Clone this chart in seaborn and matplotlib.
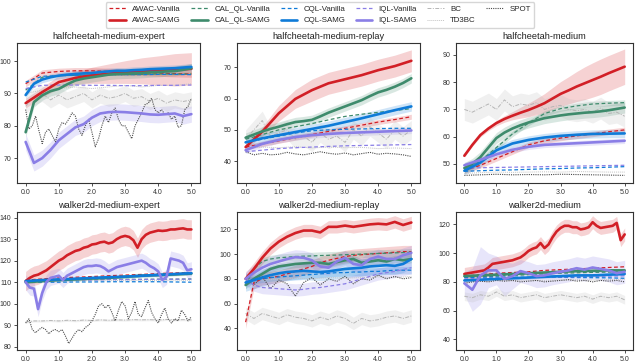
import numpy as np
import pandas as pd
import matplotlib
matplotlib.use("Agg")
import matplotlib.pyplot as plt
import seaborn as sns

# ---------------- data ----------------
SERIES = ["AWAC-Vanilla", "AWAC-SAMG", "CAL_QL-Vanilla", "CAL_QL-SAMG",
          "CQL-Vanilla", "CQL-SAMG", "IQL-Vanilla", "IQL-SAMG",
          "BC", "TD3BC", "SPOT"]
TITLES = ["halfcheetah-medium-expert", "halfcheetah-medium-replay", "halfcheetah-medium",
          "walker2d-medium-expert", "walker2d-medium-replay", "walker2d-medium"]
X_TICKS = [0, 1, 2, 3, 4, 5]
X_TICK_LABELS = ["0.0", "1.0", "2.0", "3.0", "4.0", "5.0"]
Y_TICKS = [[70, 80, 90, 100], [40, 50, 60, 70], [50, 60, 70, 80, 90],
           [80, 90, 100, 110, 120, 130, 140], [40, 60, 80, 100, 120], [40, 60, 80, 100, 120]]

# halfcheetah-medium-expert
hcme_awac_v = [93, 96.3, 96.8, 97, 97, 96.8, 96.5, 96.5, 96.3, 96.1, 96]
hcme_awac_s = [87, 90.4, 93.5, 94.8, 95.6, 96.1, 96.6, 97, 97.1, 97.3, 97.6]
hcme_cal_v = [91, 95, 95.5, 95.6, 95.7, 95.8, 95.8, 95.9, 96, 96, 96]
hcme_cal_s = [78, 87.3, 89.4, 90.7, 91.4, 92.8, 94, 94.6, 95, 95.4, 95.8, 96, 96.1, 96.2, 96.3, 96.5, 96.6, 96.8, 96.9, 97.3, 97.8]
hcme_cql_v = [93.5, 95.3, 95.5, 95.6, 95.7, 95.8, 95.8, 95.8, 95.9, 95.9, 95.8]
hcme_cql_s = [89.5, 93, 94.3, 95, 95.5, 95.8, 96, 96.2, 96.3, 96.6, 96.8, 97, 97, 97.2, 97.3, 97.5, 97.6, 97.7, 97.8, 98, 98.2]
hcme_iql_v = [91.5, 92.5, 92.6, 92.6, 92.5, 92.5, 92.4, 92.4, 92.5, 92.5, 92.6]
hcme_iql_s = [75, 68.5, 70, 72.5, 75.5, 77.5, 79.5, 80.5, 82.5, 83.8, 84.2, 84.3, 84.2, 84, 83.8, 83.5, 83.4, 83.6, 83.8, 83, 83.6]
hcme_bc = [86, 89, 90, 88, 89.5, 88, 89, 90, 88, 89.5, 88.5, 89, 90, 88.5, 89, 87.5, 88.5, 87, 88, 87.5, 88]
hcme_td3bc = [90, 91, 91.5, 92, 91.5, 92, 92.5, 92, 92.5, 92.5, 93]
hcme_spot = [85, 79, 80, 83, 78.5, 74.5, 78, 79, 77, 75, 79, 81, 80.5, 82, 84, 83, 79, 77, 80, 82,
             78, 73.5, 76, 80, 83, 81, 84, 85.5, 82, 80, 80, 78, 76, 80, 82, 84, 86.5, 87, 88.5, 85,
             84, 85, 83.5, 84, 82, 83, 79.5, 80, 85, 86, 88.5]

# halfcheetah-medium-replay
hcmr_awac_v = [44.5, 45.5, 46.5, 47.5, 48.5, 49.5, 50.5, 51.5, 52.5, 53.3, 54.2]
hcmr_awac_s = [44.5, 49.4, 55.3, 59.9, 62.7, 64.9, 66.2, 67.5, 69.1, 70.4, 72.1]
hcmr_cal_v = [47, 48.5, 50, 51, 52, 53.2, 54.3, 55, 55.6, 56.2, 56.8]
hcmr_cal_s = [47.5, 48.5, 49.5, 50.3, 51, 51.8, 52.5, 52.8, 53.2, 54.3, 55.5, 56.5, 57.5, 58.5, 59.5, 60.8, 62, 62.8, 63.8, 65, 66.5]
hcmr_cql_v = [46, 47, 48, 49, 49.7, 50, 50.2, 50.3, 50.4, 50.5, 50.5]
hcmr_cql_s = [46, 47.3, 48.3, 49.3, 50.3, 51.3, 52.5, 53.7, 55, 56.3, 57.5]
hcmr_iql_v = [43, 43.5, 44, 44.3, 44.5, 44.7, 44.9, 45, 45.1, 45.2, 45.3]
hcmr_iql_s = [43.5, 45.5, 46.8, 47.7, 48.3, 48.7, 49, 49.2, 49.4, 49.6, 49.8]
hcmr_bc = [47, 50, 53, 48, 49, 50, 47, 48, 46, 49, 47, 48, 46, 50, 48, 51, 49, 47, 50, 48, 50]
hcmr_td3bc = [44, 44.5, 44.3, 44.6, 44.2, 44.5, 44.3, 44.4, 44, 44.2, 44]
hcmr_spot = [43, 42, 42.5, 42, 42.2, 42.8, 42.3, 42, 42.5, 43, 42.5, 42.2, 42.6, 42, 42.4, 42.8, 42.2, 42.5, 42.3, 42, 41.5]

# halfcheetah-medium
hcm_awac_v = [47.5, 49.5, 52, 54.5, 57, 58.5, 59.5, 60.3, 61, 61.8, 62.5]
hcm_awac_s = [53, 57, 60.6, 63, 65, 66.5, 67.7, 68.8, 69.8, 71, 72.3, 74, 75.7, 77, 78.4, 79.6, 80.8, 82, 83.3, 84.5, 85.7]
hcm_cal_v = [48, 51, 56, 61, 65, 68.5, 70.3, 71.3, 72, 72.3, 72.5]
hcm_cal_s = [48.5, 50, 52.5, 56, 59.5, 61.5, 63, 64.2, 65.2, 66, 66.8, 67.3, 67.8, 68.2, 68.5, 68.8, 69, 69.3, 69.7, 70.2, 70.7]
hcm_cql_v = [47.3, 47.5, 47.7, 47.8, 48, 48.2, 48.3, 48.5, 48.6, 48.8, 49]
hcm_cql_s = [47.5, 50.5, 55, 57.5, 58.8, 59.7, 60.3, 60.7, 61, 61.1, 61.2]
hcm_iql_v = [48.5, 48.6, 48.7, 48.8, 48.9, 49, 49.1, 49.2, 49.3, 49.4, 49.5]
hcm_iql_s = [49.5, 51.5, 53.5, 55.2, 56.3, 57, 57.3, 57.6, 57.9, 58.2, 58.5]
hcm_bc = [70, 69, 70.5, 72, 70, 73.5, 71, 72, 71.5, 72.5, 70, 71, 71.5, 70, 69.5, 70, 69, 70.5, 68.5, 69, 67.5]
hcm_td3bc = [46.5, 46.8, 47, 46.9, 47, 47.1, 47, 47.2, 47.1, 47, 47]
hcm_spot = [45.8, 46, 46.2, 46, 46.1, 46, 46.2, 46.1, 46, 45.9, 45.8]

# walker2d-medium-expert
wme_awac_v = [111, 111.5, 112, 112.3, 112.6, 113, 113.3, 113.6, 114, 114.3, 114.5]
wme_awac_s = [110.5, 112, 113, 113.5, 114.5, 115.5, 117, 118.5, 120, 121, 122.5, 123.5, 124.5, 125, 126, 126.5,
              127.5, 127.8, 128.5, 128.8, 128, 128.5, 130, 131, 131.5, 131, 129.5, 126, 130, 132, 133, 133.5,
              134, 133.8, 134, 134.5, 134.5, 134.8, 135, 134.5, 134.5]
wme_cal_v = [110.5, 111, 111, 111.2, 111.2, 111.3, 111.3, 111.3, 111.4, 111.4, 111.5]
wme_cal_s = [110, 110.5, 111, 111.3, 111.7, 112, 112.5, 113, 113.3, 113.6, 114]
wme_cql_v = [109.8, 110, 110, 110.1, 110.1, 110.2, 110.2, 110.2, 110.2, 110.1, 110]
wme_cql_s = [110.5, 111, 111.3, 111.6, 112, 112.3, 112.6, 113, 113.4, 113.8, 114.2]
wme_iql_v = [110, 110.5, 110.8, 111, 111, 111.2, 111.2, 111.3, 111.3, 111.4, 111.4]
wme_iql_s = [110, 107.5, 107, 97.5, 105, 110, 112, 112.5, 113, 111, 113, 114, 115, 116, 117, 117.5, 117.5,
             117.8, 117.5, 116.5, 115, 116, 117, 117.5, 118, 118.5, 119, 119.5, 120, 119, 117.5, 116.5,
             115, 111, 112.5, 121, 120.5, 120, 119, 115.5, 116]
wme_bc = [91.5, 92, 92, 92.2, 92, 92.3, 92.1, 92.4, 92.2, 92.5, 92.3, 92.5, 92.4, 92.6, 92.5, 92.6, 92.4, 92.7, 92.5, 92.6, 92.5]
wme_td3bc = [110.3, 110.5, 110.6, 110.6, 110.7, 110.7, 110.8, 110.8, 110.8, 110.9, 110.9]
wme_spot = [91, 93, 88, 86.5, 88, 89, 88, 86, 87.5, 88, 87, 88, 85, 81.5, 84, 86.5, 88, 87, 89, 90,
            92, 95, 99, 100, 98, 99.5, 96, 92, 97, 101, 99, 93, 96, 101, 95, 94, 98, 101.5, 96, 93,
            91, 95, 98, 93, 91, 93, 92, 97, 95, 92, 94]

# walker2d-medium-replay
wmr_awac_v = [45, 77, 80, 81, 82, 84, 86, 88, 90, 93, 95, 96.5, 98, 99, 99.5, 100, 100.5, 101, 101.5, 102, 102]
wmr_awac_s = [80, 88, 97, 104.5, 110, 114, 117, 119, 119, 117.5, 122, 122, 123, 122, 123, 124, 124.5, 124, 126, 123.5, 125.5]
wmr_cal_v = [75, 88, 94, 96, 97, 97.5, 98, 98.3, 98.5, 98.8, 99, 99.2, 99.5, 99.7, 100, 100.2, 100.5, 100.7, 101, 101.2, 101.5]
wmr_cal_s = [75, 80, 84, 88, 90, 91, 92, 92.5, 93, 93, 92, 93.5, 95, 96, 93, 94, 95, 94, 96, 95, 96]
wmr_cql_v = [78, 79, 80, 81, 81.5, 82, 82.5, 83, 83.5, 84, 84.5, 85, 85, 85.5, 85.5, 86, 86, 86.5, 87, 87, 87]
wmr_cql_s = [77, 79, 81, 83, 84.5, 85.5, 86, 86.5, 86, 85.5, 86, 87, 88, 88.5, 89, 90, 90.5, 91, 90.5, 92, 96]
wmr_iql_v = [80, 75, 73, 72.5, 72, 71.5, 71, 71.5, 72.5, 73, 74, 75, 76, 78, 80, 82, 84, 85, 86, 87.5, 89]
wmr_iql_s = [80, 85, 89, 92, 94, 96, 97.5, 97, 95, 90, 89, 94, 97, 92, 91, 96, 98, 96, 96, 99, 101]
wmr_bc = [52, 48, 52, 50, 48, 51, 49, 48, 46, 49, 47, 50, 48, 44, 48, 46, 47, 49, 50, 48, 50]
wmr_td3bc = [79, 80, 79.5, 80.5, 80, 81, 80.5, 81, 81.5, 81, 82]
wmr_spot = [80, 75, 82, 72, 79, 76, 66, 77, 81, 75, 80, 78, 82, 76, 80, 79, 83, 80, 82, 80, 81]

# walker2d-medium
wm_awac_v = [84, 85, 86, 86.5, 87, 88, 88.5, 89, 89.5, 90, 90.5]
wm_awac_s = [85.5, 86, 86.5, 87, 87.5, 88, 90, 92.5, 93, 93.5, 94, 94.5, 95, 96, 97, 99, 101.5, 103, 104, 107,
             103.5, 106, 111, 115, 117.5, 119, 119, 118, 118, 116.5, 117, 118, 121.5, 119, 117.5, 118,
             118.5, 119, 121, 109, 113]
wm_cal_v = [83, 83.5, 84, 84.5, 85, 85.5, 86, 86.3, 86.6, 86.8, 87]
wm_cal_s = [84, 84.5, 85, 85.5, 86, 86.5, 87, 87.5, 87.7, 88, 88]
wm_cql_v = [83, 83.2, 83.3, 83.3, 83.2, 83.2, 83.1, 83, 82.9, 82.8, 82.5]
wm_cql_s = [81, 81.5, 82, 82.5, 83, 83.5, 84, 84.5, 84.5, 85, 85.5]
wm_iql_v = [82, 82.3, 82.6, 82.8, 83, 83.2, 83.4, 83.6, 83.8, 84, 84.2]
wm_iql_s = [79, 74.5, 84.5, 88, 88, 82, 84, 87.5, 86, 84, 84.5, 86, 87, 88, 89.5, 88.5, 90, 89, 88, 86, 87]
wm_bc = [70, 69, 71, 70, 73, 70, 71, 69, 70, 71, 69, 70, 71, 70, 69, 70, 68, 70, 69, 70, 67.5]
wm_td3bc = [80, 80.5, 81, 80.8, 81.2, 81, 81.3, 81.5, 81.2, 81.6, 81.8]
wm_spot = [79, 80, 80.5, 80, 81, 80.5, 81, 80, 80.5, 81, 80, 80.5, 81, 81.5, 80.5, 81, 80, 81, 80.5, 81, 80]

# shaded spread (half-width) per series
hcme_spread = {"AWAC-Vanilla": 1, "AWAC-SAMG": [1.5, 1.5, 2, 2, 2.5, 3, 3.5, 4, 4.5, 5, 5], "CAL_QL-SAMG": 1.5,
               "CQL-SAMG": 1, "IQL-SAMG": 2.5, "BC": 2.5}
hcmr_spread = {"AWAC-SAMG": [0.5, 1.5, 2.5, 3, 3.5, 3.5, 3.5, 3.5, 3.5, 3.5, 3.5], "CAL_QL-SAMG": 1.5,
               "CQL-SAMG": 1.5, "IQL-SAMG": 1, "BC": 3, "AWAC-Vanilla": 0.8}
hcm_spread = {"AWAC-SAMG": [0.5, 0.5, 0.7, 0.8, 1, 1.2, 1.5, 2, 2.5, 3, 3.5, 4, 4.5, 5, 5.5, 6, 6.3, 6.5, 6.5, 6.5, 6.5],
              "AWAC-Vanilla": 1, "CAL_QL-SAMG": 2, "CAL_QL-Vanilla": 1, "CQL-SAMG": 1.5, "IQL-SAMG": 1, "BC": 4}
wme_spread = {"AWAC-SAMG": 4.5, "IQL-SAMG": 3.5, "CQL-SAMG": 0.7, "CAL_QL-SAMG": 0.7, "BC": 0.5}
wmr_spread = {"AWAC-SAMG": 5, "AWAC-Vanilla": 5, "CQL-SAMG": 7, "IQL-SAMG": 6, "IQL-Vanilla": 5,
              "CAL_QL-SAMG": 3, "CAL_QL-Vanilla": 3, "CQL-Vanilla": 3, "BC": 5}
wm_spread = {"AWAC-SAMG": 4.5, "IQL-SAMG": [8, 15, 20, 12, 10, 12, 9, 8, 8, 8, 8, 8, 8, 8, 8, 8, 8, 8, 8, 8, 8],
             "BC": 3, "CAL_QL-SAMG": 1, "CQL-SAMG": 1}

PANELS = [
    dict(zip(SERIES, [hcme_awac_v, hcme_awac_s, hcme_cal_v, hcme_cal_s, hcme_cql_v, hcme_cql_s,
                      hcme_iql_v, hcme_iql_s, hcme_bc, hcme_td3bc, hcme_spot])),
    dict(zip(SERIES, [hcmr_awac_v, hcmr_awac_s, hcmr_cal_v, hcmr_cal_s, hcmr_cql_v, hcmr_cql_s,
                      hcmr_iql_v, hcmr_iql_s, hcmr_bc, hcmr_td3bc, hcmr_spot])),
    dict(zip(SERIES, [hcm_awac_v, hcm_awac_s, hcm_cal_v, hcm_cal_s, hcm_cql_v, hcm_cql_s,
                      hcm_iql_v, hcm_iql_s, hcm_bc, hcm_td3bc, hcm_spot])),
    dict(zip(SERIES, [wme_awac_v, wme_awac_s, wme_cal_v, wme_cal_s, wme_cql_v, wme_cql_s,
                      wme_iql_v, wme_iql_s, wme_bc, wme_td3bc, wme_spot])),
    dict(zip(SERIES, [wmr_awac_v, wmr_awac_s, wmr_cal_v, wmr_cal_s, wmr_cql_v, wmr_cql_s,
                      wmr_iql_v, wmr_iql_s, wmr_bc, wmr_td3bc, wmr_spot])),
    dict(zip(SERIES, [wm_awac_v, wm_awac_s, wm_cal_v, wm_cal_s, wm_cql_v, wm_cql_s,
                      wm_iql_v, wm_iql_s, wm_bc, wm_td3bc, wm_spot])),
]
SPREADS = [hcme_spread, hcmr_spread, hcm_spread, wme_spread, wmr_spread, wm_spread]

# ---------------- style ----------------
RED, GREEN, BLUE, PURPLE = "#d21f26", "#3e8b6c", "#0f7bd8", "#8a7ee6"
STYLE = {
    "AWAC-Vanilla":   dict(color=RED, ls=(0, (3, 2)), lw=0.9, z=4),
    "AWAC-SAMG":      dict(color=RED, ls="-", lw=1.9, z=6),
    "CAL_QL-Vanilla": dict(color=GREEN, ls=(0, (3, 2)), lw=0.9, z=4),
    "CAL_QL-SAMG":    dict(color=GREEN, ls="-", lw=1.9, z=6),
    "CQL-Vanilla":    dict(color=BLUE, ls=(0, (3, 2)), lw=0.9, z=4),
    "CQL-SAMG":       dict(color=BLUE, ls="-", lw=1.9, z=6),
    "IQL-Vanilla":    dict(color=PURPLE, ls=(0, (3, 2)), lw=0.9, z=4),
    "IQL-SAMG":       dict(color=PURPLE, ls="-", lw=1.9, z=6),
    "BC":             dict(color="#b5b5b5", ls=(0, (4, 1.5, 1, 1.5)), lw=0.7, z=3),
    "TD3BC":          dict(color="#c4c4c4", ls=(0, (1, 1)), lw=0.7, z=3),
    "SPOT":           dict(color="#4a4a4a", ls=(0, (1, 1)), lw=0.8, z=3),
}

YLIMS = [(62.3, 105.6), (33, 77.8), (43, 94.4), (78.5, 142.6), (22.5, 134), (32.6, 128.6)]
POS = [[0.0266, 0.4959, 0.2859, 0.3857], [0.3703, 0.4959, 0.2859, 0.3857], [0.7125, 0.4959, 0.2766, 0.3857],
       [0.0266, 0.0358, 0.2859, 0.3802], [0.3703, 0.0358, 0.2859, 0.3802], [0.7125, 0.0358, 0.2766, 0.3802]]

sns.set_theme(style="ticks")
plt.rcParams["font.family"] = ["Liberation Sans", "DejaVu Sans"]
plt.rcParams["axes.linewidth"] = 0.8

fig = plt.figure(figsize=(6.4, 3.63), dpi=100)
handles = {}
for i, (data, spread) in enumerate(zip(PANELS, SPREADS)):
    ax = fig.add_axes(POS[i])
    for name in SERIES:
        vals = np.asarray(data[name], dtype=float)
        x = np.linspace(0, 5, len(vals))
        st = STYLE[name]
        if name in spread:
            hw = np.asarray(spread[name], dtype=float)
            ax.fill_between(x, vals - hw, vals + hw, color=st["color"], alpha=0.2, lw=0, zorder=1)
        df = pd.DataFrame({"x": x, "y": vals})
        sns.lineplot(data=df, x="x", y="y", ax=ax, color=st["color"], linestyle=st["ls"],
                     linewidth=st["lw"], zorder=st["z"], label=name, legend=False)
        if i == 0:
            handles[name] = ax.get_lines()[-1]
    if ax.get_legend() is not None:
        ax.get_legend().remove()
    ax.set_xlabel("")
    ax.set_ylabel("")
    ax.set_xticks(X_TICKS)
    ax.set_xticklabels(X_TICK_LABELS)
    ax.set_yticks(Y_TICKS[i])
    ax.set_ylim(*YLIMS[i])
    ax.set_xlim(-0.26, 5.26)
    ax.tick_params(labelsize=5, length=2.5, width=0.6, pad=1.5, colors="#333333")
    for s in ax.spines.values():
        s.set_color("#333333")
    ax.set_title(TITLES[i], fontsize=6.7, pad=3, color="#222222")

fig.legend([handles[n] for n in SERIES], SERIES, loc="upper center", bbox_to_anchor=(0.5, 1.005),
           ncol=6, fontsize=5.7, frameon=True, handlelength=2.1, columnspacing=1.3,
           borderpad=0.45, labelspacing=0.45, edgecolor="#cccccc", fancybox=True)

fig.savefig("out.png", dpi=100)
